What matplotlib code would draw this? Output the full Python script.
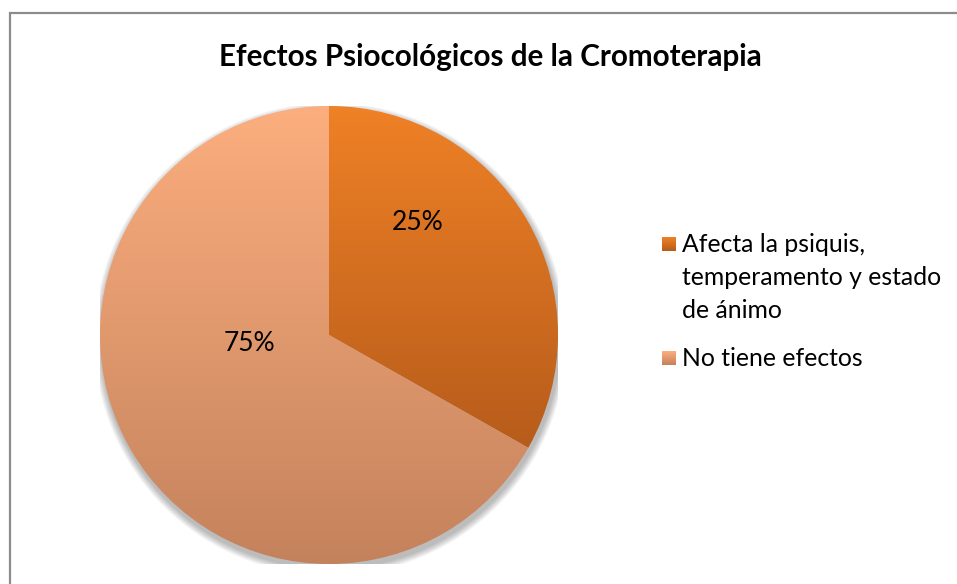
import matplotlib
matplotlib.use("Agg")
import matplotlib.pyplot as plt
from matplotlib.patches import Rectangle, Circle
from matplotlib.colors import LinearSegmentedColormap
import numpy as np

# datos
categorias = ["Afecta la psiquis,\ntemperamento y estado\nde ánimo", "No tiene efectos"]
valores = [33.2, 66.8]          # proporción real de cada sector en el dibujo
etiquetas = ["25%", "75%"]       # texto de las etiquetas tal como aparece
titulo = "Efectos Psiocológicos de la Cromoterapia"

# colores del degradado (arriba, abajo) de cada sector
degradados = [("#EF8126", "#B75C1B"), ("#FCAE7E", "#C4825C")]

plt.rcParams["font.family"] = ["Lato", "DejaVu Sans"]

W, H = 957, 584
fig = plt.figure(figsize=(W / 100, H / 100), dpi=100)


def px(x, y):
    # pixeles (origen arriba a la izquierda) -> coordenadas de figura
    return x / W, 1 - y / H


# marco gris del área del gráfico
fig.patches.append(Rectangle((9.5 / W, -0.1), 1.2, (H - 13.5) / H + 0.1,
                             transform=fig.transFigure, fill=False,
                             edgecolor="#8C8C8C", linewidth=1.6))

fig.text(*px(490, 57), titulo, ha="center", va="center",
         fontsize=21.3, fontweight="bold", color="black")

# eje del pastel: centro (329, 335) px, radio 229 px
cx, cy, r = 329, 335, 229
ax = fig.add_axes([(cx - r) / W, (H - cy - r) / H, 2 * r / W, 2 * r / H])

# sombra difusa
for k in range(8):
    ax.add_patch(Circle((0.006, -0.018), 1.0 + 0.004 * (8 - k), color="black",
                        alpha=0.035, linewidth=0, zorder=0))

cunas, _ = ax.pie(valores, startangle=90, counterclock=False, radius=1,
                  wedgeprops=dict(linewidth=0))

for cuna, (c_top, c_bot) in zip(cunas, degradados):
    ext = cuna.get_path().get_extents()
    cmap = LinearSegmentedColormap.from_list("g", [c_top, c_bot])
    grad = np.linspace(0, 1, 256).reshape(-1, 1)
    im = ax.imshow(grad, cmap=cmap, aspect="auto", zorder=2,
                   extent=[-1, 1, ext.y0, ext.y1], origin="upper")
    im.set_clip_path(cuna)
    cuna.set_facecolor("none")

ax.set_xlim(-1, 1)
ax.set_ylim(-1, 1)
ax.set_aspect("equal")
ax.axis("off")

# etiquetas (posición polar: radio relativo, ángulo en grados)
pos_etiquetas = [(0.625, 51.5), (0.35, 186)]
for txt, (rr, ang) in zip(etiquetas, pos_etiquetas):
    a = np.deg2rad(ang)
    ax.text(rr * np.cos(a), rr * np.sin(a), txt, ha="center", va="center",
            fontsize=19, color="black", zorder=5)

# leyenda: cuadrito con el degradado del sector y texto alineado a la primera línea
y_entradas = [244, 358]
paso_linea = 33.5
for cat, (c_top, c_bot), y0 in zip(categorias, degradados, y_entradas):
    lax = fig.add_axes([662 / W, (H - y0 - 7) / H, 14 / W, 14 / H])
    lax.imshow(np.linspace(0, 1, 32).reshape(-1, 1), aspect="auto",
               cmap=LinearSegmentedColormap.from_list("g", [c_top, c_bot]))
    lax.axis("off")
    for i, linea in enumerate(cat.split("\n")):
        fig.text(*px(682, y0 + i * paso_linea), linea, ha="left", va="center",
                 fontsize=17.8, color="black")

fig.savefig("out.png", dpi=100)
